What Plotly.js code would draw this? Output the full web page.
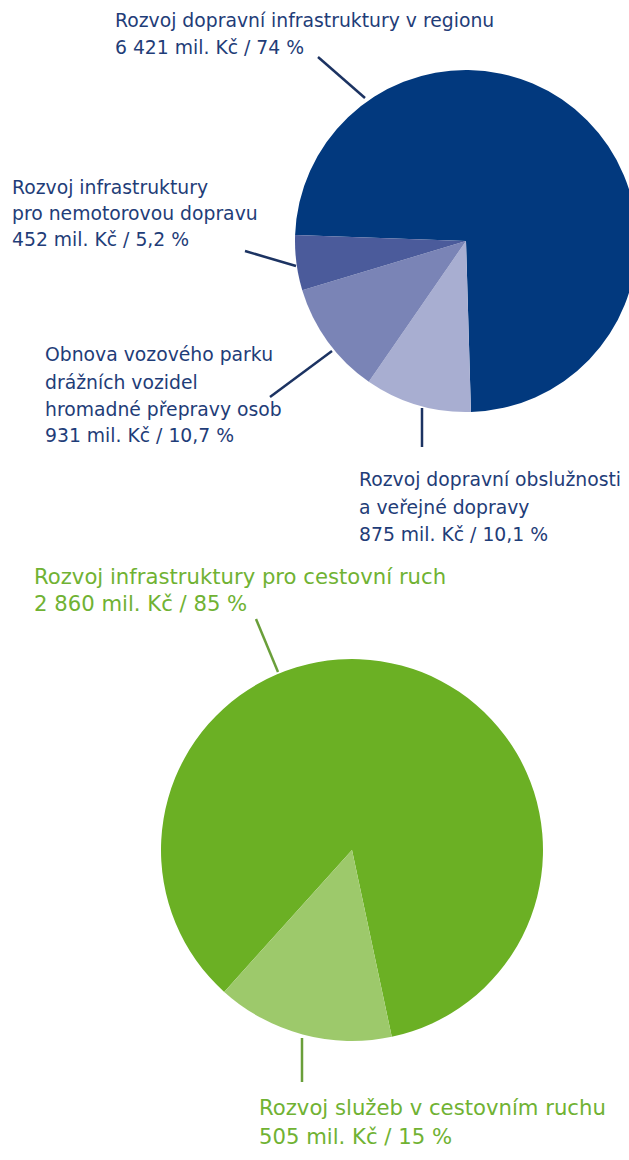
<!DOCTYPE html>
<html>
<head>
<meta charset="utf-8">
<script src="https://cdn.plot.ly/plotly-3.0.1.min.js"></script>
<style>
html, body { margin:0; padding:0; overflow:hidden; background:#fff; width:629px; height:1160px; }
#chart { width:645px; height:1160px; }
</style>
</head>
<body>
<div id="chart"></div>
<script>
// ---- Data ----
var transportLabels = [
  "Rozvoj dopravní infrastruktury v regionu",
  "Rozvoj dopravní obslužnosti a veřejné dopravy",
  "Obnova vozového parku drážních vozidel hromadné přepravy osob",
  "Rozvoj infrastruktury pro nemotorovou dopravu"
];
var transportValues = [6421, 875, 931, 452];           // mil. Kč
var transportPercent = ["74", "10,1", "10,7", "5,2"];   // %
var transportColors = ["#02397e", "#a8aed1", "#7a84b6", "#4b5b9b"];

var tourismLabels = [
  "Rozvoj infrastruktury pro cestovní ruch",
  "Rozvoj služeb v cestovním ruchu"
];
var tourismValues = [2860, 505];        // mil. Kč
var tourismPercent = ["85", "15"];      // %
var tourismColors = ["#6bb024", "#9dc96b"];

// ---- Helpers ----
var W = 645, H = 1160;
function px(x) { return x / W; }
function py(y) { return 1 - y / H; }
function fmt(v) { return String(v).replace(/\B(?=(\d{3})+(?!\d))/g, " "); }
function valueLine(v, p) { return fmt(v) + " mil. Kč / " + p + " %"; }

var blueText = "#1f3d78", greenText = "#70b233";
var blueLine = "#1c3362", greenLine = "#6a9f3a";
var FONT = "DejaVu Sans, sans-serif";

var traces = [
  {
    type: "pie",
    labels: transportLabels,
    values: transportValues,
    marker: { colors: transportColors, line: { width: 0 } },
    sort: false,
    direction: "clockwise",
    rotation: 272,
    textinfo: "none",
    hoverinfo: "label+value+percent",
    showlegend: false,
    domain: { x: [px(295), px(637)], y: [py(412), py(70)] }
  },
  {
    type: "pie",
    labels: tourismLabels,
    values: tourismValues,
    marker: { colors: tourismColors, line: { width: 0 } },
    sort: false,
    direction: "clockwise",
    rotation: 222,
    textinfo: "none",
    hoverinfo: "label+value+percent",
    showlegend: false,
    domain: { x: [px(161), px(543)], y: [py(1041), py(659)] }
  }
];

var blueSize = 18.8, greenSize = 21.2;
var blocks = [
  { lines: ["Rozvoj dopravní infrastruktury v regionu", valueLine(transportValues[0], transportPercent[0])],
    x: 113, y: 20, dy: 27, color: blueText, size: blueSize },
  { lines: ["Rozvoj infrastruktury", "pro nemotorovou dopravu", valueLine(transportValues[3], transportPercent[3])],
    x: 10, y: 187, dy: 26.5, color: blueText, size: blueSize },
  { lines: ["Obnova vozového parku", "drážních vozidel", "hromadné přepravy osob", valueLine(transportValues[2], transportPercent[2])],
    x: 43, y: 355, dy: 27, color: blueText, size: blueSize },
  { lines: ["Rozvoj dopravní obslužnosti", "a veřejné dopravy", valueLine(transportValues[1], transportPercent[1])],
    x: 357, y: 480, dy: 27, color: blueText, size: blueSize },
  { lines: [tourismLabels[0], valueLine(tourismValues[0], tourismPercent[0])],
    x: 32, y: 576, dy: 27, color: greenText, size: greenSize },
  { lines: [tourismLabels[1], valueLine(tourismValues[1], tourismPercent[1])],
    x: 257, y: 1107, dy: 29, color: greenText, size: greenSize }
];

var annotations = [];
blocks.forEach(function (b) {
  b.lines.forEach(function (t, i) {
    annotations.push({
      text: t, showarrow: false, xref: "paper", yref: "paper",
      x: px(b.x), y: py(b.y + i * b.dy), xanchor: "left", yanchor: "middle",
      font: { family: FONT, size: b.size, color: b.color }
    });
  });
});

var leaders = [
  [318, 57, 365, 98, blueLine],
  [245, 251, 296, 266, blueLine],
  [270, 397, 332, 351, blueLine],
  [422, 408, 422, 447, blueLine],
  [256, 619, 278, 672, greenLine],
  [302, 1038, 302, 1082, greenLine]
];
var shapes = leaders.map(function (l) {
  return { type: "line", xref: "paper", yref: "paper",
    x0: px(l[0]), y0: py(l[1]), x1: px(l[2]), y1: py(l[3]),
    line: { color: l[4], width: 2.5 } };
});

var layout = {
  width: W, height: H,
  margin: { l: 0, r: 0, t: 0, b: 0 },
  paper_bgcolor: "#fff",
  showlegend: false,
  annotations: annotations,
  shapes: shapes
};

Plotly.newPlot("chart", traces, layout, { displayModeBar: false, staticPlot: true });
</script>
</body>
</html>
